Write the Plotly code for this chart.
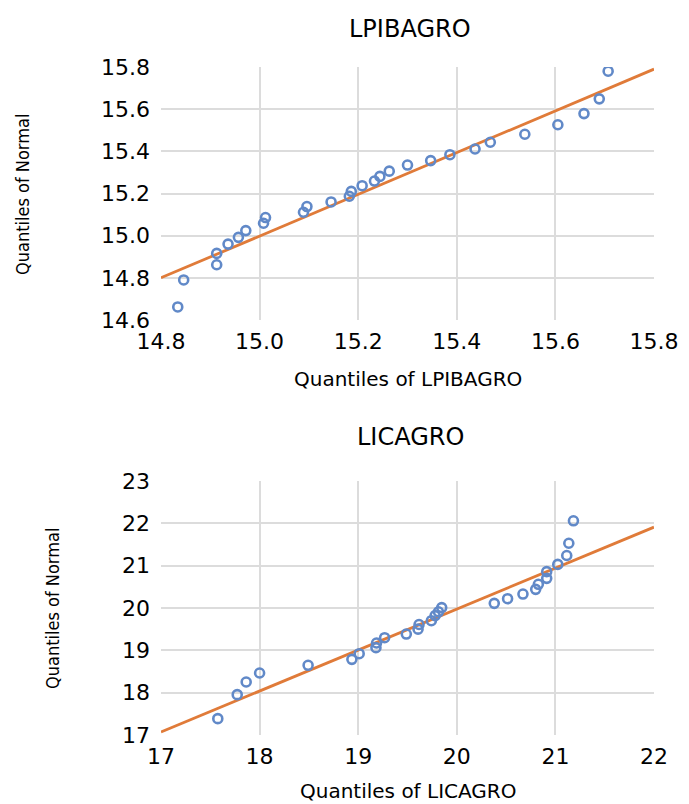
import plotly.graph_objects as go
from plotly.subplots import make_subplots

# ---- data: LPIBAGRO Q-Q plot ----
x_lpib = [14.834, 14.846, 14.913, 14.913, 14.936, 14.957, 14.972, 15.008, 15.012, 15.089,
          15.096, 15.145, 15.182, 15.186, 15.208, 15.233, 15.244, 15.263, 15.300, 15.347,
          15.386, 15.437, 15.468, 15.538, 15.605, 15.658, 15.689, 15.707]
y_lpib = [14.662, 14.790, 14.862, 14.916, 14.960, 14.992, 15.024, 15.059, 15.086, 15.111,
          15.138, 15.160, 15.187, 15.210, 15.237, 15.259, 15.281, 15.306, 15.335, 15.356,
          15.384, 15.411, 15.443, 15.481, 15.526, 15.579, 15.649, 15.780]
line_lpib_x = [14.8, 15.8]
line_lpib_y = [14.80, 15.79]

# ---- data: LICAGRO Q-Q plot ----
x_licag = [17.576, 17.773, 17.864, 18.000, 18.492, 18.936, 19.010, 19.180, 19.186, 19.268,
           19.488, 19.607, 19.617, 19.742, 19.780, 19.814, 19.847, 20.380, 20.515, 20.671,
           20.800, 20.827, 20.912, 20.912, 21.024, 21.115, 21.136, 21.183]
y_licag = [17.386, 17.953, 18.252, 18.465, 18.646, 18.787, 18.921, 19.063, 19.173, 19.299,
           19.385, 19.500, 19.610, 19.700, 19.820, 19.910, 20.010, 20.110, 20.220, 20.330,
           20.440, 20.560, 20.700, 20.860, 21.030, 21.240, 21.530, 22.060]
line_licag_x = [17, 22]
line_licag_y = [17.07, 21.91]

top_xticks = [14.8, 15.0, 15.2, 15.4, 15.6, 15.8]
top_yticks = [14.6, 14.8, 15.0, 15.2, 15.4, 15.6, 15.8]
bot_xticks = [17, 18, 19, 20, 21, 22]
bot_yticks = [17, 18, 19, 20, 21, 22, 23]

W, H = 689, 804
L, R, T, B = 161, 35, 67, 69
PW, PH = W - L - R, H - T - B

def py(p):  # pixel y -> paper y
    return (H - B - p) / PH

def px(p):
    return (p - L) / PW

BLUE = "#6189C8"
ORANGE = "#E07B39"
GRID = "#DCDCDC"
FONT = "DejaVu Sans"

fig = make_subplots(rows=2, cols=1)

marker = dict(symbol="circle-open", size=9, color=BLUE, line=dict(width=2.6, color=BLUE))

fig.add_trace(go.Scatter(x=line_lpib_x, y=line_lpib_y, mode="lines",
                         line=dict(color=ORANGE, width=2.8), showlegend=False), row=1, col=1)
fig.add_trace(go.Scatter(x=x_lpib, y=y_lpib, mode="markers", marker=marker,
                         showlegend=False), row=1, col=1)
fig.add_trace(go.Scatter(x=line_licag_x, y=line_licag_y, mode="lines",
                         line=dict(color=ORANGE, width=2.8), showlegend=False), row=2, col=1)
fig.add_trace(go.Scatter(x=x_licag, y=y_licag, mode="markers", marker=marker,
                         showlegend=False), row=2, col=1)

tickfont = dict(family=FONT, size=22, color="#000000")

def axis(ticks, rng, fmt):
    return dict(range=rng, tickvals=ticks, ticktext=[fmt.format(t) for t in ticks],
                showgrid=False, zeroline=False, showline=False, ticks="",
                tickfont=tickfont, fixedrange=True, automargin=False,
                minor=dict(tickvals=ticks[1:-1], showgrid=True, gridcolor=GRID,
                           gridwidth=1.6, ticks=""))

fig.update_layout(
    xaxis=dict(axis(top_xticks, [14.8, 15.8], "{:.1f}"), domain=[0, 1], anchor="y", ticklabelstandoff=6),
    yaxis=dict(axis(top_yticks, [14.6, 15.8], "{:.1f}"), domain=[py(320), 1], anchor="x", ticklabelstandoff=10),
    xaxis2=dict(axis(bot_xticks, [17, 22], "{:d}"), domain=[0, 1], anchor="y2", ticklabelstandoff=6),
    yaxis2=dict(axis(bot_yticks, [17, 23], "{:d}"), domain=[0, py(481)], anchor="x2", ticklabelstandoff=10),
)

ann_font = dict(family=FONT, color="#000000")
ytitle_font = dict(size=18, family="DejaVu Sans Condensed, Liberation Sans Narrow, DejaVu Sans",
                   color="#000000")
annotations = [
    dict(text="LPIBAGRO", x=px(410), y=py(29), font=dict(size=24, **ann_font)),
    dict(text="Quantiles of LPIBAGRO", x=px(408), y=py(379), font=dict(size=20, **ann_font)),
    dict(text="Quantiles of Normal", x=px(23), y=py(195), textangle=-90, font=ytitle_font),
    dict(text="LICAGRO", x=px(410), y=py(437), font=dict(size=24, **ann_font)),
    dict(text="Quantiles of LICAGRO", x=px(408), y=py(791), font=dict(size=20, **ann_font)),
    dict(text="Quantiles of Normal", x=px(52), y=py(609), textangle=-90, font=ytitle_font),
]
for a in annotations:
    a.update(xref="paper", yref="paper", xanchor="center", yanchor="middle", showarrow=False)

fig.update_layout(
    width=W, height=H,
    margin=dict(l=L, r=R, t=T, b=B, autoexpand=False),
    paper_bgcolor="white", plot_bgcolor="white",
    annotations=annotations,
    showlegend=False,
)

fig.write_html("out.html", config={"displayModeBar": False},
               post_script="document.body.style.margin='0';document.body.style.overflow='hidden';")
